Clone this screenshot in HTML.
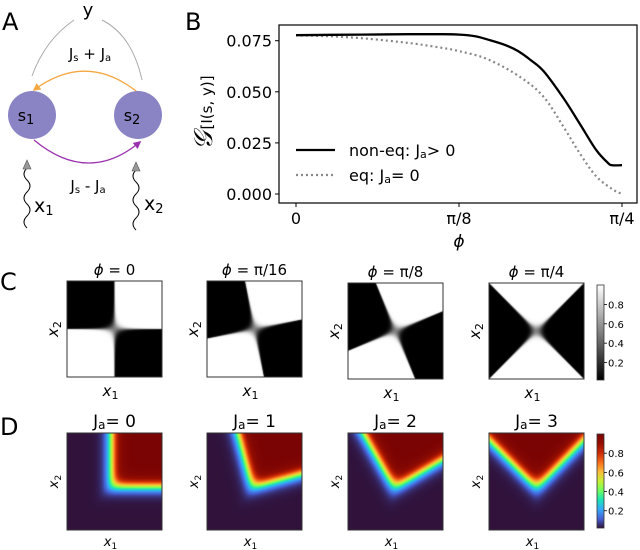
<!DOCTYPE html>
<html><head><meta charset="utf-8">
<style>
html,body{margin:0;padding:0;background:#fff;}
#root{position:relative;width:640px;height:550px;overflow:hidden;font-family:"DejaVu Sans","Liberation Sans",sans-serif;}
canvas{position:absolute;}
svg{position:absolute;left:0;top:0;}
text{font-family:"DejaVu Sans","Liberation Sans",sans-serif;}
</style></head>
<body>
<div id="root">
<svg id="svg" width="640" height="550">
  <defs>
    <marker id="arrO" viewBox="0 0 10 10" refX="8" refY="5" markerWidth="6" markerHeight="6" orient="auto"><path d="M0,0 L10,5 L0,10 z" fill="#f5a742"/></marker>
    <marker id="arrP" viewBox="0 0 10 10" refX="8" refY="5" markerWidth="6" markerHeight="6" orient="auto"><path d="M0,0 L10,5 L0,10 z" fill="#9b30b0"/></marker>
    <linearGradient id="grayGrad" x1="0" y1="1" x2="0" y2="0"><stop offset="0" stop-color="#000"/><stop offset="1" stop-color="#fff"/></linearGradient>
    <linearGradient id="turboGrad" x1="0" y1="1" x2="0" y2="0"></linearGradient>
  </defs>
  <text x="2" y="30" font-size="24">A</text>
  <text x="185" y="30" font-size="24">B</text>
  <text x="0" y="290" font-size="24">C</text>
  <text x="0" y="435" font-size="24">D</text>

  <g>
    <text x="88" y="16" font-size="18" text-anchor="middle">y</text>
    <path d="M32,76 Q45,40 74,20" fill="none" stroke="#aaa" stroke-width="1"/>
    <path d="M102,20 Q132,35 142,80" fill="none" stroke="#aaa" stroke-width="1"/>
    <text x="90" y="59" font-size="15" text-anchor="middle">J<tspan font-size="10" dy="2">s</tspan><tspan dy="-2"> + J</tspan><tspan font-size="10" dy="2">a</tspan></text>
    <path d="M141,95 Q88,50 34,90" fill="none" stroke="#f5a742" stroke-width="1.3" marker-end="url(#arrO)"/>
    <path d="M34,140 Q88,185 140,142" fill="none" stroke="#9b30b0" stroke-width="1.3" marker-end="url(#arrP)"/>
    <text x="88" y="191" font-size="15" text-anchor="middle">J<tspan font-size="10" dy="2">s</tspan><tspan dy="-2"> - J</tspan><tspan font-size="10" dy="2">a</tspan></text>
    <ellipse cx="32" cy="115" rx="24" ry="24" fill="#8a84c4"/>
    <ellipse cx="138" cy="115" rx="24" ry="24" fill="#8a84c4"/>
    <text x="26" y="121" font-size="16" text-anchor="middle">s<tspan font-size="13" dy="3">1</tspan></text>
    <text x="132" y="121" font-size="16" text-anchor="middle">s<tspan font-size="13" dy="3">2</tspan></text>
    <path d="M27,168 q-6,6 0,12 q6,6 0,12 q-6,6 0,12 q6,6 0,12 q-6,6 0,12" fill="none" stroke="#000" stroke-width="1"/>
    <path d="M23,169 L31,169 L27,160 z" fill="#999" stroke="#555" stroke-width="0.6"/>
    <path d="M136,170 q-6,6 0,12 q6,6 0,12 q-6,6 0,12 q6,6 0,12 q-6,6 0,12" fill="none" stroke="#000" stroke-width="1"/>
    <path d="M132,171 L140,171 L136,162 z" fill="#999" stroke="#555" stroke-width="0.6"/>
    <text x="34" y="212" font-size="19">x<tspan font-size="13" dy="3">1</tspan></text>
    <text x="144" y="210" font-size="19">x<tspan font-size="13" dy="3">2</tspan></text>
  </g>

  <g id="chartB"></g>
  <g id="gridLabels"></g>
</svg>
</div>
<script>
// ---------- Panel B data ----------
const bXfrac = [0, 0.2, 0.344, 0.45, 0.50, 0.55, 0.59, 0.64, 0.68, 0.72, 0.76, 0.82, 0.87, 0.92, 0.956, 0.97, 1.0];
const bNonEq = [0.0777, 0.0780, 0.0782, 0.0782, 0.0780, 0.0772, 0.0755, 0.0730, 0.0700, 0.0655, 0.0600, 0.0470, 0.0345, 0.0217, 0.0153, 0.0141, 0.0141];
const bXfracEq = [0, 0.1, 0.219, 0.344, 0.42, 0.50, 0.59, 0.69, 0.76, 0.82, 0.87, 0.92, 0.97, 1.0];
const bEq = [0.0776, 0.0772, 0.0760, 0.0739, 0.0722, 0.0699, 0.0658, 0.0570, 0.0474, 0.0330, 0.0200, 0.0088, 0.0024, 0.0];
const bYTicks = [0, 0.025, 0.05, 0.075];
const bYTickLabels = ["0.000", "0.025", "0.050", "0.075"];
const bXTicks = [0, 0.5, 1];
const bXTickLabels = ["0", "π/8", "π/4"];
// ---------- Panel C/D data ----------
const cPhis = [0, Math.PI/16, Math.PI/8, Math.PI/4];
const cTitles = ["0", "π/16", "π/8", "π/4"];
const dJa = [0, 1, 2, 3];
const cbTicks = [0.2, 0.4, 0.6, 0.8];
const cbTickLabels = ["0.2", "0.4", "0.6", "0.8"];

const NS = "http://www.w3.org/2000/svg";
function mk(tag, attrs, parent){const e=document.createElementNS(NS,tag);for(const k in attrs)e.setAttribute(k,attrs[k]);parent.appendChild(e);return e;}

const B = document.getElementById('chartB');
const bx0=296, bx1=622, by0=194, by1=40.7;
const xs = f => bx0 + f*(bx1-bx0);
const ys = v => by0 - v/0.075*(by0-by1);
let r = mk('rect',{x:279,y:25,width:358,height:178,fill:'none',stroke:'#000','stroke-width':1.2},B);


bYTicks.forEach((v,i)=>{
  let t=mk('line',{x1:275,x2:279,y1:ys(v),y2:ys(v),stroke:'#000'},B);
  
  
  let l=mk('text',{x:272,y:ys(v)+6,'font-size':16,'text-anchor':'end'},B);
  l.textContent=bYTickLabels[i];
  
  
});
bXTicks.forEach((f,i)=>{
  let t=mk('line',{x1:xs(f),x2:xs(f),y1:203,y2:207,stroke:'#000'},B);
  
  
  let l=mk('text',{x:xs(f),y:224,'font-size':16,'text-anchor':'middle'},B);
  l.textContent=bXTickLabels[i];
  
  
});
let xt=mk('text',{x:459,y:247,'font-size':17,'font-style':'italic','text-anchor':'middle'},B);
xt.textContent='ϕ';


let yt=mk('text',{x:0,y:0,'font-size':15,transform:'translate(212,150) rotate(-90)'},B);
yt.innerHTML='<tspan font-size="26" font-style="italic" font-family="DejaVu Serif, serif">𝒢</tspan><tspan dx="2">[I(s, y)]</tspan>';


function pathFrom(xf, vals){
  const P=xf.map((f,i)=>[xs(f),ys(vals[i])]);
  let d='M'+P[0][0].toFixed(1)+','+P[0][1].toFixed(1);
  for(let i=0;i<P.length-1;i++){
    const p0=P[Math.max(0,i-1)],p1=P[i],p2=P[i+1],p3=P[Math.min(P.length-1,i+2)];
    const c1=[p1[0]+(p2[0]-p0[0])/6,p1[1]+(p2[1]-p0[1])/6];
    const c2=[p2[0]-(p3[0]-p1[0])/6,p2[1]-(p3[1]-p1[1])/6];
    d+=` C${c1[0].toFixed(1)},${c1[1].toFixed(1)} ${c2[0].toFixed(1)},${c2[1].toFixed(1)} ${p2[0].toFixed(1)},${p2[1].toFixed(1)}`;
  }
  return d;
}
let pe=mk('path',{d:pathFrom(bXfracEq,bEq),fill:'none',stroke:'#888','stroke-width':2.2,'stroke-dasharray':'2,3'},B);


let pn=mk('path',{d:pathFrom(bXfrac,bNonEq),fill:'none',stroke:'#000','stroke-width':2.3},B);


let lg=mk('g',{},B);


let l1=mk('line',{x1:296,x2:335,y1:150,y2:150,stroke:'#000','stroke-width':2.3},lg);


let l1t=mk('text',{x:349,y:156,'font-size':16},lg);
l1t.innerHTML='non-eq:  J<tspan font-size="11" dy="2">a</tspan><tspan dy="-2">&gt; 0</tspan>';


let l2=mk('line',{x1:296,x2:335,y1:175,y2:175,stroke:'#888','stroke-width':2.2,'stroke-dasharray':'2,3'},lg);


let l2t=mk('text',{x:349,y:181,'font-size':16},lg);
l2t.innerHTML='eq:  J<tspan font-size="11" dy="2">a</tspan><tspan dy="-2">= 0</tspan>';



const TURBO=[[48,18,59],[70,98,216],[54,170,249],[26,228,182],[114,254,94],[200,239,52],[250,186,57],[246,107,25],[203,42,4],[150,14,2],[122,4,3]];
function turbo(x){x=Math.max(0,Math.min(1,x))*10;const i=Math.min(9,Math.floor(x)),f=x-i;
  return [0,1,2].map(k=>Math.round(TURBO[i][k]+(TURBO[i+1][k]-TURBO[i][k])*f));}
const tg=document.getElementById('turboGrad');
for(let i=0;i<=10;i++){const c=turbo(i/10);mk('stop',{offset:i/10,'stop-color':`rgb(${c.join(',')})`},tg);}
const sig=z=>1/(1+Math.exp(-z));

const root=document.getElementById('root');
const G=document.getElementById('gridLabels');
const colX=[67,207,348,489], W=95;
function heat(x,y,h,fn,name,rgbFn){
  const c=document.createElement('canvas');c.width=W;c.height=h;
  c.style.left=x+'px';c.style.top=y+'px';c.style.width=W+'px';c.style.height=h+'px';
  
  
  root.appendChild(c);
  const ctx=c.getContext('2d');const im=ctx.createImageData(W,h);
  for(let j=0;j<h;j++)for(let i=0;i<W;i++){
    const v=fn((i+0.5)/W,1-(j+0.5)/h);const col=rgbFn(v);const k=4*(j*W+i);
    im.data[k]=col[0];im.data[k+1]=col[1];im.data[k+2]=col[2];im.data[k+3]=255;}
  ctx.putImageData(im,0,0);
  let fr=mk('rect',{x:x,y:y,width:W,height:h,fill:'none',stroke:'#333','stroke-width':1},G);
  
  
}
function labelsFor(x,top,h,title,isD,idx){
  let t=mk('text',{x:x+W/2,y:top-6,'font-size':isD?17:15,'text-anchor':'middle'},G);
  if(isD){t.innerHTML='J<tspan font-size="12" dy="2">a</tspan><tspan dy="-2">= '+title+'</tspan>';}
  else {t.innerHTML='<tspan font-style="italic">ϕ</tspan> = '+title;}
  
  
  let xl=mk('text',{x:x+W/2-4,y:top+h+(isD?16:19),'font-size':isD?13:15,'font-style':'italic','text-anchor':'middle'},G);
  xl.innerHTML='x<tspan font-size="'+(isD?9:11)+'" dy="3" font-style="normal">1</tspan>';
  
  
  let yl=mk('text',{x:0,y:0,'font-size':isD?13:15,'font-style':'italic','text-anchor':'middle',transform:`translate(${x-9},${top+h/2}) rotate(-90)`},G);
  yl.innerHTML='x<tspan font-size="'+(isD?9:11)+'" dy="3" font-style="normal">2</tspan>';
  
  
}
const cTops=[281,281,283,283];
cPhis.forEach((phi,i)=>{
  const cs=Math.cos(phi), sn=Math.sin(phi);
  heat(colX[i],cTops[i],96,(px,py)=>{const u=px-0.5,v=py-0.5;const a=u*cs+v*sn,b=-u*sn+v*cs;return sig(900*a*b);},
    'c-heatmap-'+i, v=>{const g=Math.round(255*v);return [g,g,g];});
  labelsFor(colX[i],cTops[i],96,cTitles[i],false,i);
});
dJa.forEach((ja,i)=>{
  const th=ja*15*Math.PI/180, cs=Math.cos(th), sn=Math.sin(th);
  heat(colX[i],433,97,(px,py)=>{const u=px-0.5,v=py-0.48;const a=u*cs+v*sn,b=-u*sn+v*cs;
      const m=-Math.log(Math.exp(-a*25)+Math.exp(-b*25))/25;return sig(28*m+0.8);},
    'd-heatmap-'+i, turbo);
  labelsFor(colX[i],433,97,String(ja),true,i);
});
function colorbar(y0,h,fill,name){
  let r=mk('rect',{x:597,y:y0,width:7,height:h,fill:fill,stroke:'#333','stroke-width':0.8},G);
  
  
  cbTicks.forEach((v,i)=>{
    const yy=y0+h-(v-0.02)/0.98*h;
    let t=mk('line',{x1:604,x2:607,y1:yy,y2:yy,stroke:'#000','stroke-width':0.8},G);
    
    
    let l=mk('text',{x:608,y:yy+4,'font-size':10},G);
    l.textContent=cbTickLabels[i];
    
    
  });
}
colorbar(285,95,'url(#grayGrad)','c-colorbar');
colorbar(434,94,'url(#turboGrad)','d-colorbar');
root.appendChild(document.getElementById('svg'));
</script>
</body></html>
